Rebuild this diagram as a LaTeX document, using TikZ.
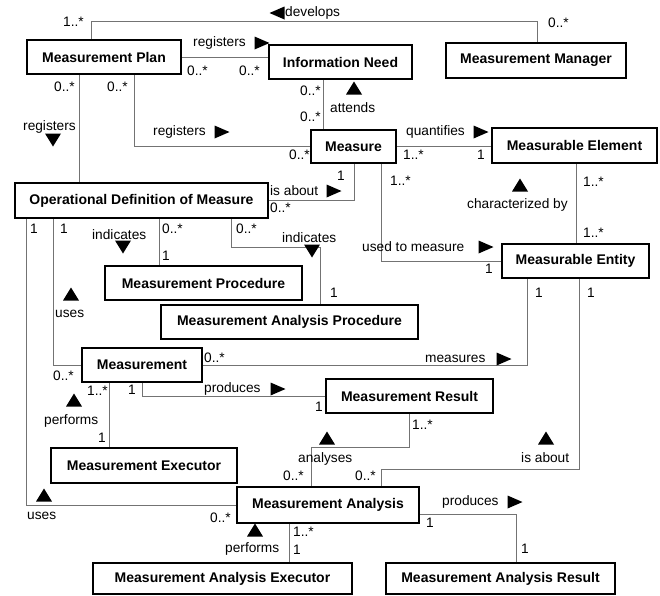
\documentclass[tikz,border=0pt]{standalone}
\usepackage{fontspec}
\setmainfont{Liberation Sans}
\definecolor{lgray}{rgb}{0.45,0.45,0.45}
\newcommand{\mkR}[2]{\fill (#1,#2) ++(-7.5,-6.5) -- ++(15,6.5) -- ++(-15,6.5) -- cycle;}
\newcommand{\mkL}[2]{\fill (#1,#2) ++(7.5,-6.5) -- ++(-15,6.5) -- ++(15,6.5) -- cycle;}
\newcommand{\mkU}[2]{\fill (#1,#2) ++(-8,6.5) -- ++(8,-13) -- ++(8,13) -- cycle;}
\newcommand{\mkD}[2]{\fill (#1,#2) ++(-8,-6.5) -- ++(8,13) -- ++(8,-13) -- cycle;}
\begin{document}
\begin{tikzpicture}[x=1pt,y=-1pt,
  cls/.style={draw=black,line width=2.5pt,fill=white,inner sep=0pt,
    font=\bfseries\fontsize{14}{16}\selectfont},
  conn/.style={draw=lgray,line width=1pt},
  lbl/.style={inner sep=0pt,anchor=west,font=\fontsize{13.7}{16}\selectfont}]
\useasboundingbox (0,0) rectangle (660,595);
% classes
\node[cls,minimum width=154pt,minimum height=34pt] (mp) at (104,57) {Measurement Plan};
\node[cls,minimum width=143pt,minimum height=34pt] (in) at (340.5,62) {Information Need};
\node[cls,minimum width=180pt,minimum height=35pt] (mm) at (536,60.5) {Measurement Manager};
\node[cls,minimum width=85pt,minimum height=33pt] (ms) at (353.5,146.5) {Measure};
\node[cls,minimum width=165pt,minimum height=35pt] (mel) at (574.5,145.5) {Measurable Element};
\node[cls,minimum width=253pt,minimum height=35pt] (odm) at (141.5,200.5) {Operational Definition of Measure};
\node[cls,minimum width=147pt,minimum height=34pt] (ment) at (575.5,261) {Measurable Entity};
\node[cls,minimum width=197pt,minimum height=34pt] (mproc) at (203.5,283) {Measurement Procedure};
\node[cls,minimum width=257pt,minimum height=34pt] (map) at (289.5,322) {Measurement Analysis Procedure};
\node[cls,minimum width=120pt,minimum height=34pt] (m) at (142,365) {Measurement};
\node[cls,minimum width=167pt,minimum height=34pt] (mr) at (409.5,396) {Measurement Result};
\node[cls,minimum width=186pt,minimum height=35pt] (mex) at (144,465.5) {Measurement Executor};
\node[cls,minimum width=182pt,minimum height=36pt] (ma) at (328,505) {Measurement Analysis};
\node[cls,minimum width=259pt,minimum height=31pt] (mae) at (222.5,578.5) {Measurement Analysis Executor};
\node[cls,minimum width=229pt,minimum height=31pt] (mar) at (500.5,578.5) {Measurement Analysis Result};
% connectors
\begin{scope}[on background layer/.style={}]
\draw[conn] (mp.north -| 91,0) -- (91,21) -| (mm.north -| 537,0);
\draw[conn] (mp.east) -- (in.west |- mp.east);
\draw[conn] (mp.south -| 79,0) -- (odm.north -| 79,0);
\draw[conn] (mp.south -| 134,0) |- (ms.west);
\draw[conn] (in.south -| 323,0) -- (ms.north -| 323,0);
\draw[conn] (ms.east) -- (mel.west |- ms.east);
\draw[conn] (ms.south -| 354,0) |- (odm.east);
\draw[conn] (ms.south -| 381,0) |- (ment.west);
\draw[conn] (mel.south -| 576,0) -- (ment.north -| 576,0);
\draw[conn] (odm.south -| 26,0) |- (ma.west);
\draw[conn] (odm.south -| 53,0) |- (m.west);
\draw[conn] (odm.south -| 159,0) -- (mproc.north -| 159,0);
\draw[conn] (odm.south -| 231,0) |- (320,247) -- (map.north -| 320,0);
\draw[conn] (ment.south -| 527,0) |- (m.east);
\draw[conn] (ment.south -| 579,0) |- (381,469) -- (ma.north -| 381,0);
\draw[conn] (m.south -| 142,0) |- (mr.west);
\draw[conn] (m.south -| 109,0) -- (mex.north -| 109,0);
\draw[conn] (mr.south -| 409,0) |- (311,447) -- (ma.north -| 311,0);
\draw[conn] (ma.east |- 0,514) -| (mar.north -| 516,0);
\draw[conn] (ma.south -| 289,0) -- (mae.north -| 289,0);
\end{scope}
% direction marks
\mkL{277}{13}
\mkR{262}{43}
\mkD{53}{140}
\mkR{222}{132}
\mkU{354}{88}
\mkR{481}{132}
\mkR{334}{191}
\mkU{520}{185}
\mkR{486}{247}
\mkD{123}{247}
\mkD{312}{251}
\mkU{71}{294}
\mkR{504}{359}
\mkR{278}{389}
\mkU{74}{400}
\mkU{546}{438}
\mkU{327}{438}
\mkU{44}{495}
\mkR{515}{502}
\mkU{255}{530}
% labels
\node[lbl] (l1) at (63,22) {1..*};
\node[lbl] (l2) at (285,13) {develops};
\node[lbl] (l3) at (548,23) {0..*};
\node[lbl] (l4) at (193,43) {registers};
\node[lbl] (l5) at (187,71) {0..*};
\node[lbl] (l6) at (239,71) {0..*};
\node[lbl] (l7) at (54,87) {0..*};
\node[lbl] (l8) at (107,87) {0..*};
\node[lbl] (l9) at (23,127) {registers};
\node[lbl] (l10) at (153,132) {registers};
\node[lbl] (l11) at (300,91) {0..*};
\node[lbl] (l12) at (300,117) {0..*};
\node[lbl] (l13) at (330,108) {attends};
\node[lbl] (l14) at (289,155) {0..*};
\node[lbl] (l15) at (406,132) {quantifies};
\node[lbl] (l16) at (403,155) {1..*};
\node[lbl] (l17) at (477,155) {1};
\node[lbl] (l18) at (337,176) {1};
\node[lbl] (l19) at (270,191) {is about};
\node[lbl] (l20) at (270,208) {0..*};
\node[lbl] (l21) at (390,181) {1..*};
\node[lbl] (l22) at (583,182) {1..*};
\node[lbl] (l23) at (467,205) {characterized by};
\node[lbl] (l24) at (583,233) {1..*};
\node[lbl] (l25) at (362,247) {used to measure};
\node[lbl] (l26) at (485,269) {1};
\node[lbl] (l27) at (30,229) {1};
\node[lbl] (l28) at (60,229) {1};
\node[lbl] (l29) at (162,229) {0..*};
\node[lbl] (l30) at (236,229) {0..*};
\node[lbl] (l31) at (92,235) {indicates};
\node[lbl] (l32) at (162,256) {1};
\node[lbl] (l33) at (282,238) {indicates};
\node[lbl] (l34) at (330,293) {1};
\node[lbl] (l35) at (55,314) {uses};
\node[lbl] (l36) at (535,293) {1};
\node[lbl] (l37) at (587,293) {1};
\node[lbl] (l38) at (53,376) {0..*};
\node[lbl] (l39) at (204,358) {0..*};
\node[lbl] (l40) at (425,359) {measures};
\node[lbl] (l41) at (128,390) {1};
\node[lbl] (l42) at (204,389) {produces};
\node[lbl] (l43) at (315,407) {1};
\node[lbl] (l44) at (87,391) {1..*};
\node[lbl] (l45) at (44,421) {performs};
\node[lbl] (l46) at (98,438) {1};
\node[lbl] (l47) at (521,458) {is about};
\node[lbl] (l48) at (412,425) {1..*};
\node[lbl] (l49) at (298,459) {analyses};
\node[lbl] (l50) at (283,476) {0..*};
\node[lbl] (l51) at (355,476) {0..*};
\node[lbl] (l52) at (27,516) {uses};
\node[lbl] (l53) at (210,518) {0..*};
\node[lbl] (l54) at (442,502) {produces};
\node[lbl] (l55) at (426,523) {1};
\node[lbl] (l56) at (521,549) {1};
\node[lbl] (l57) at (225,549) {performs};
\node[lbl] (l58) at (293,532) {1..*};
\node[lbl] (l59) at (293,550) {1};
\end{tikzpicture}
\end{document}
